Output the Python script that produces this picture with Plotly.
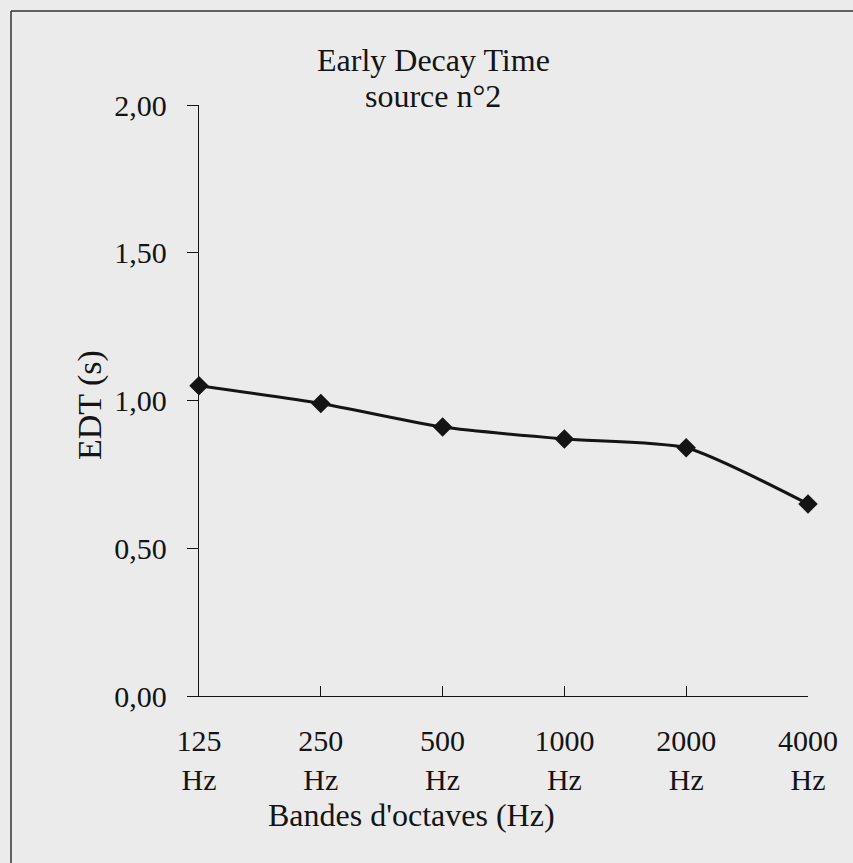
import plotly.graph_objects as go

bands = ["125", "250", "500", "1000", "2000", "4000"]
edt = [1.05, 0.99, 0.91, 0.87, 0.84, 0.65]
y_ticks = [0.0, 0.5, 1.0, 1.5, 2.0]
y_tick_text = ["0,00", "0,50", "1,00", "1,50", "2,00"]

FONT = "Liberation Serif, Times New Roman, serif"
INK = "#141414"
BG = "#ebebeb"

W, H = 853, 863
L, R, T, B = 199, 45, 105, 167
pw, ph = W - L - R, H - T - B

def px(x):
    return (x - L) / pw

def py(y):
    return (H - B - y) / ph

xpos = list(range(len(bands)))

fig = go.Figure()
fig.add_trace(go.Scatter(
    x=xpos, y=edt, mode="lines+markers",
    line=dict(color=INK, width=3, shape="spline", smoothing=0.6),
    marker=dict(symbol="diamond", size=15, color=INK),
    showlegend=False, cliponaxis=False,
))

fig.update_layout(
    width=W, height=H,
    margin=dict(l=L, r=R, t=T, b=B),
    paper_bgcolor=BG, plot_bgcolor=BG,
    font=dict(family=FONT, size=30, color=INK),
    xaxis=dict(
        range=[0, len(bands) - 1],
        tickmode="array", tickvals=xpos,
        ticktext=[f"{b}<br>Hz" for b in bands],
        ticks="inside", ticklen=10, tickwidth=1.2, tickcolor=INK,
        showline=True, linecolor=INK, linewidth=1.4,
        showgrid=False, zeroline=False,
        ticklabelstandoff=18,
    ),
    yaxis=dict(
        range=[0, 2],
        tickmode="array", tickvals=y_ticks, ticktext=y_tick_text,
        ticks="outside", ticklen=11, tickwidth=1.2, tickcolor=INK,
        showline=True, linecolor=INK, linewidth=1.4,
        showgrid=False, zeroline=False,
        ticklabelstandoff=14,
    ),
    annotations=[
        dict(text="Early Decay Time", x=px(433), y=py(60), xref="paper", yref="paper",
             showarrow=False, xanchor="center", yanchor="middle", font=dict(size=32)),
        dict(text="source n°2", x=px(433), y=py(96), xref="paper", yref="paper",
             showarrow=False, xanchor="center", yanchor="middle", font=dict(size=32)),
        dict(text="Bandes d'octaves (Hz)", x=px(411), y=py(815), xref="paper", yref="paper",
             showarrow=False, xanchor="center", yanchor="middle", font=dict(size=32)),
        dict(text="EDT (s)", x=px(90), y=py(405), xref="paper", yref="paper",
             showarrow=False, xanchor="center", yanchor="middle", textangle=-90,
             font=dict(size=34)),
    ],
    shapes=[
        dict(type="line", xref="paper", yref="paper", x0=px(11), x1=px(11), y0=py(11), y1=py(870),
             line=dict(color="#333", width=1.5)),
        dict(type="line", xref="paper", yref="paper", x0=px(11), x1=px(860), y0=py(11), y1=py(11),
             line=dict(color="#333", width=1.5)),
    ],
)

fig.write_html(
    "out.html",
    config={"displayModeBar": False},
    post_script="document.body.style.margin='0px';document.body.style.background='#ebebeb';",
)
